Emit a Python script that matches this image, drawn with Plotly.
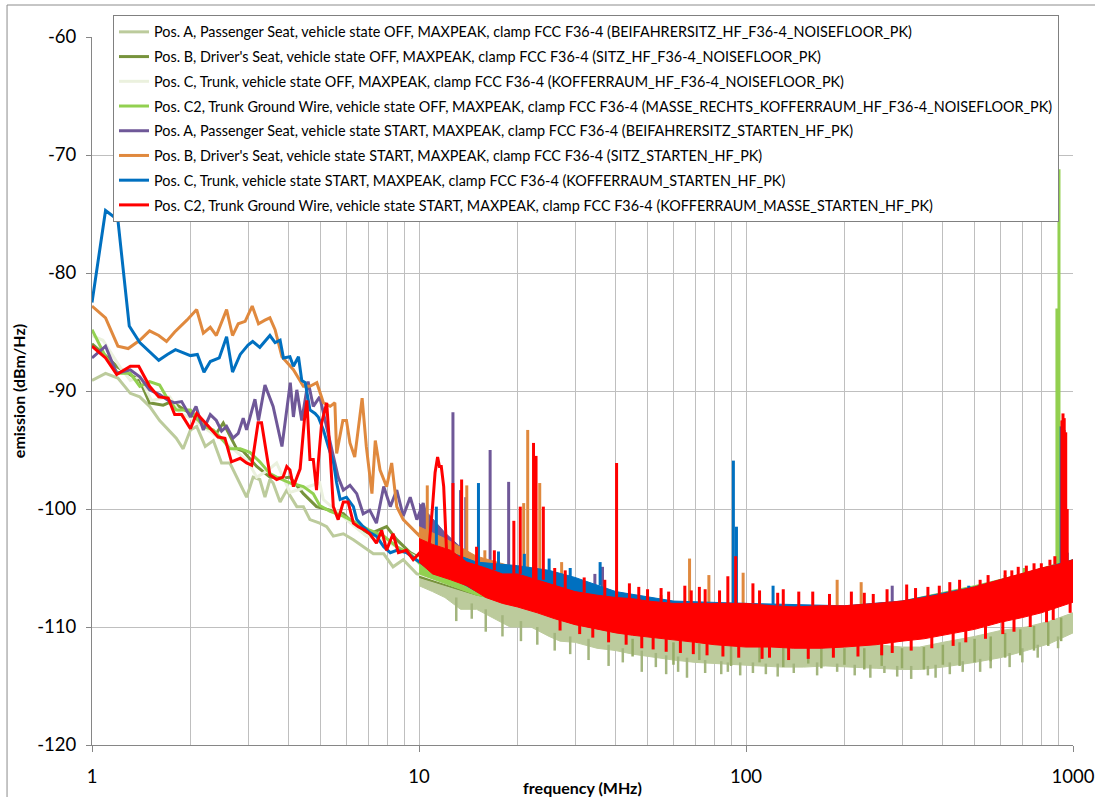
import plotly.graph_objects as go

# ---------------- names / colours ----------------
names = [
    "Pos. A, Passenger Seat, vehicle state OFF, MAXPEAK, clamp FCC F36-4 (BEIFAHRERSITZ_HF_F36-4_NOISEFLOOR_PK)",
    "Pos. B, Driver's Seat, vehicle state OFF, MAXPEAK, clamp FCC F36-4 (SITZ_HF_F36-4_NOISEFLOOR_PK)",
    "Pos. C, Trunk, vehicle state OFF, MAXPEAK, clamp FCC F36-4 (KOFFERRAUM_HF_F36-4_NOISEFLOOR_PK)",
    "Pos. C2, Trunk Ground Wire, vehicle state OFF, MAXPEAK, clamp FCC F36-4 (MASSE_RECHTS_KOFFERRAUM_HF_F36-4_NOISEFLOOR_PK)",
    "Pos. A, Passenger Seat, vehicle state START, MAXPEAK, clamp FCC F36-4 (BEIFAHRERSITZ_STARTEN_HF_PK)",
    "Pos. B, Driver's Seat, vehicle state START, MAXPEAK, clamp FCC F36-4 (SITZ_STARTEN_HF_PK)",
    "Pos. C, Trunk, vehicle state START, MAXPEAK, clamp FCC F36-4 (KOFFERRAUM_STARTEN_HF_PK)",
    "Pos. C2, Trunk Ground Wire, vehicle state START, MAXPEAK, clamp FCC F36-4 (KOFFERRAUM_MASSE_STARTEN_HF_PK)",
]
colors = ["#BCCB9C", "#77933C", "#EBF1DE", "#92D050", "#6F5898", "#E0893E", "#0070C0", "#FF0000"]
stripe_colors = ["#A3B57E", "#95AB66", "#EBF1DE", "#92D050", "#6F5898", "#E0893E", "#0070C0", "#FF0000"]

# ---------------- low-frequency traces (1 - 12 MHz) ----------------
aoff_f = [1.0,1.1,1.2,1.31,1.4,1.5,1.61,1.71,1.81,1.9,2.0,2.09,2.22,2.35,2.49,2.64,2.8,2.97,3.11,3.26,3.38,3.5,3.58,3.76,3.94,4.23,4.43,4.64,4.97,5.22,5.47,5.87,6.3,6.75,7.25,7.8,8.33,8.95,9.85,10.8]
aoff_v = [-89.1,-88.5,-88.9,-90.2,-90.5,-91.3,-92.5,-93.3,-94.0,-94.9,-93.3,-93.0,-94.7,-94.2,-96.1,-96.1,-97.5,-99.0,-97.3,-97.5,-99.0,-97.5,-97.8,-99.4,-98.4,-99.8,-99.8,-100.9,-101.2,-101.5,-102.3,-102.1,-102.6,-103.2,-103.8,-103.8,-104.9,-104.3,-105.5,-105.7]

boff_f = [1.0,1.1,1.2,1.29,1.4,1.5,1.65,1.75,2.0,2.14,2.4,2.52,2.77,2.9,3.19,3.5,3.84,4.03,4.43,4.86,5.35,5.87,6.45,7.07,7.96,8.55,9.4,10.3]
boff_v = [-86.0,-87.0,-88.0,-88.5,-89.1,-91.0,-91.2,-90.9,-91.9,-92.7,-93.6,-92.7,-94.9,-95.1,-96.4,-97.3,-97.4,-97.3,-98.7,-99.8,-100.1,-100.4,-101.5,-102.1,-101.5,-102.6,-103.7,-104.3]

coff_f = [1.0,1.08,1.22,1.31,1.4,1.52,1.73,1.86,2.0,2.3,2.6,3.0,3.19,3.42,3.67,4.03,4.5,4.97,5.1,5.5,6.0,6.9,7.8,8.8,10.0]
coff_v = [-85.3,-85.7,-88.0,-89.1,-88.8,-90.8,-90.5,-91.9,-92.3,-93.5,-94.5,-96.0,-97.3,-96.8,-96.1,-98.6,-98.2,-97.8,-99.2,-100.0,-100.9,-102.3,-102.6,-103.4,-104.2]

c2off_f = [1.0,1.1,1.2,1.31,1.4,1.5,1.61,1.69,1.81,2.0,2.19,2.35,2.52,2.64,2.84,3.04,3.26,3.5,3.67,4.04,4.43,4.75,4.97,5.35,5.87,6.45,7.07,7.8,8.55,9.4,10.3]
c2off_v = [-84.8,-87.1,-88.5,-88.5,-89.6,-89.2,-89.5,-90.5,-91.6,-91.6,-93.0,-93.3,-94.2,-94.9,-94.9,-95.2,-96.0,-97.0,-97.3,-97.8,-98.1,-98.7,-99.7,-100.2,-100.6,-101.2,-101.8,-102.3,-103.2,-103.8,-104.9]

astart_f = [1.0,1.1,1.19,1.31,1.4,1.5,1.61,1.71,1.79,1.88,2.0,2.08,2.19,2.3,2.4,2.49,2.58,2.7,2.8,2.9,2.97,3.15,3.23,3.38,3.58,3.81,4.04,4.13,4.23,4.38,4.58,4.75,4.97,5.35,5.66,5.87,6.15,6.45,6.75,7.07,7.41,7.8,8.17,8.55,8.95,9.4,9.85,10.3,10.8]
astart_v = [-87.2,-86.2,-88.5,-88.2,-88.8,-89.9,-90.3,-90.8,-91.0,-90.9,-92.2,-91.3,-93.3,-92.0,-92.5,-93.4,-93.0,-94.0,-93.6,-92.3,-93.3,-90.7,-92.5,-89.5,-91.3,-94.7,-89.3,-92.2,-89.9,-92.5,-89.2,-91.3,-90.5,-94.2,-97.3,-98.4,-98.0,-98.7,-100.4,-100.1,-101.2,-98.1,-99.8,-98.4,-100.6,-99.0,-100.9,-99.5,-102.1]

bstart_f = [1.0,1.1,1.2,1.29,1.4,1.5,1.6,1.69,1.79,1.95,2.09,2.19,2.3,2.4,2.58,2.69,2.8,2.94,3.09,3.23,3.38,3.5,3.63,3.81,4.13,4.43,4.64,4.87,5.1,5.35,5.53,5.6,5.85,6.0,6.15,6.36,6.7,6.9,7.18,7.35,7.6,7.96,8.25,8.55,8.95,9.4,9.85,10.3]
bstart_v = [-82.8,-83.8,-86.2,-86.4,-85.7,-84.9,-85.3,-85.8,-85.0,-84.0,-83.1,-85.1,-84.6,-85.3,-83.1,-85.3,-84.3,-84.1,-82.8,-84.3,-84.0,-83.8,-84.8,-87.1,-88.2,-89.6,-89.6,-89.3,-91.0,-91.3,-91.0,-95.3,-92.5,-92.5,-94.4,-95.6,-90.6,-94.7,-98.7,-94.2,-96.7,-98.1,-96.1,-99.8,-100.9,-101.5,-102.1,-102.6]

cstart_f = [1.0,1.1,1.2,1.3,1.4,1.6,1.7,1.8,2.0,2.1,2.2,2.3,2.45,2.58,2.69,2.84,3.0,3.1,3.26,3.5,3.63,3.76,3.85,4.03,4.13,4.28,4.38,4.49,4.64,4.81,4.92,5.1,5.28,5.48,5.6,5.74,6.0,6.3,6.45,6.75,7.07,7.41,7.8,8.17,8.55,9.15,9.8,10.6]
cstart_v = [-82.5,-74.7,-75.5,-84.5,-85.9,-87.4,-86.9,-86.5,-87.0,-86.9,-88.4,-87.5,-87.2,-85.4,-88.4,-86.9,-86.1,-85.8,-86.3,-85.3,-85.9,-85.7,-87.2,-87.1,-87.9,-87.1,-89.1,-89.3,-91.6,-91.9,-92.2,-93.3,-94.7,-96.1,-97.8,-99.2,-99.0,-99.8,-100.9,-101.5,-102.0,-102.3,-103.2,-103.7,-103.5,-103.7,-104.3,-104.9]

c2start_f = [1.0,1.1,1.19,1.31,1.39,1.5,1.6,1.71,1.79,1.88,2.0,2.09,2.22,2.32,2.43,2.55,2.67,2.84,2.97,3.08,3.22,3.3,3.5,3.67,3.84,3.94,4.03,4.13,4.28,4.33,4.46,4.54,4.64,4.75,4.86,4.92,5.04,5.22,5.35,5.47,5.66,5.87,6.07,6.3,6.52,6.84,7.07,7.41,7.69,7.96,8.33,8.65,9.15,9.6,10.06,10.6,11.0,11.2,11.4,11.55,11.7,11.9,12.2]
c2start_v = [-86.2,-87.2,-88.6,-87.9,-87.9,-89.6,-90.5,-90.6,-92.0,-92.0,-93.2,-91.9,-92.7,-93.3,-93.9,-94.0,-96.0,-95.7,-96.1,-96.3,-92.7,-92.7,-97.1,-97.5,-97.3,-96.4,-96.7,-98.1,-97.0,-96.6,-92.5,-90.8,-95.8,-95.8,-98.4,-96.1,-92.7,-91.0,-95.3,-99.8,-100.9,-99.4,-99.4,-101.2,-101.5,-101.8,-102.1,-102.9,-101.8,-103.5,-102.1,-103.7,-103.5,-104.3,-103.7,-104.9,-99.8,-96.9,-95.6,-96.4,-96.4,-98.1,-104.9]

# ---------------- dense region (10 - 1000 MHz): band envelopes ----------------
aoff_band_f = [10,11,12,13.4,15,17,19,22,25,27,30,35,40,45,50,60,70,80,91,110,130,150,175,200,250,300,340,400,500,600,720,850,1000]
aoff_band_top = [-104.0,-104.5,-105.0,-106.0,-106.5,-107.0,-107.4,-108.0,-108.5,-108.8,-109.0,-109.4,-110.0,-110.2,-110.5,-110.8,-110.8,-110.8,-110.8,-111.0,-111.0,-111.1,-111.2,-111.4,-111.5,-111.7,-111.7,-111.3,-110.8,-110.3,-110.0,-109.5,-108.8]
aoff_band_bot = [-106.5,-107.0,-107.5,-108.5,-108.5,-109.3,-110.0,-110.0,-110.8,-111.2,-111.3,-111.8,-112.0,-112.3,-112.5,-112.8,-113.0,-113.1,-113.2,-113.3,-113.4,-113.4,-113.3,-113.4,-113.5,-113.6,-113.6,-113.4,-113.0,-112.6,-112.0,-111.4,-110.5]

boff_band_f = [10,15,20,30,40,60,100,200,300,500,700,900,1000]
boff_band_top = [-104.5,-106.0,-107.0,-107.8,-108.3,-108.6,-108.8,-108.8,-108.3,-107.0,-106.0,-105.0,-104.7]
boff_band_bot = [-105.8,-107.3,-108.0,-109.5,-110.2,-110.8,-111.3,-111.4,-110.9,-109.9,-108.9,-108.0,-107.6]

coff_band_f = [10,15,20,30,40,60,100,200,300,500,700,900,1000]
coff_band_top = [-104.3,-105.8,-106.8,-107.6,-108.2,-108.5,-108.6,-108.6,-108.2,-106.9,-105.9,-105.0,-104.6]
coff_band_bot = [-105.6,-107.2,-108.0,-109.5,-110.2,-110.8,-111.3,-111.4,-110.9,-109.9,-108.9,-108.0,-107.6]

c2off_band_f = [10,15,20,30,40,60,100,200,300,500,700,900,1000]
c2off_band_top = [-104.5,-106.0,-106.8,-107.5,-108.0,-108.3,-108.5,-108.3,-107.8,-106.5,-105.5,-104.6,-104.3]
c2off_band_bot = [-105.5,-107.3,-108.0,-109.5,-110.2,-110.8,-111.3,-111.4,-110.9,-109.9,-108.9,-108.0,-107.6]

astart_band_f = [10,12,15,20,25,30,40,60,100,200,300,500,700,900,1000]
astart_band_top = [-99.5,-102.0,-104.5,-105.3,-106.0,-106.8,-107.6,-108.0,-108.2,-108.3,-108.0,-106.8,-105.7,-104.8,-104.5]
astart_band_bot = [-102.0,-104.5,-106.5,-107.5,-108.5,-109.3,-110.2,-110.9,-111.5,-111.6,-111.0,-110.0,-109.0,-108.1,-107.7]

bstart_band_f = [10,12,15,20,25,30,40,60,100,200,300,500,700,900,1000]
bstart_band_top = [-101.5,-102.5,-104.0,-105.0,-105.5,-106.5,-107.5,-108.0,-108.2,-108.3,-108.0,-106.8,-105.7,-104.8,-104.5]
bstart_band_bot = [-104.0,-105.0,-106.5,-107.5,-108.5,-109.3,-110.2,-110.9,-111.5,-111.6,-111.0,-110.0,-109.0,-108.1,-107.7]

cstart_band_f = [10,12,15,20,25,30,40,60,100,200,300,500,700,900,1000]
cstart_band_top = [-103.0,-103.5,-104.5,-104.8,-105.2,-105.8,-107.0,-107.8,-108.0,-108.2,-107.8,-106.6,-105.5,-104.7,-104.3]
cstart_band_bot = [-104.5,-105.5,-107.0,-108.0,-109.0,-109.5,-110.3,-110.9,-111.5,-111.6,-111.0,-110.0,-109.0,-108.1,-107.7]

c2start_band_f = [10,11,12.5,14,16,18,20,23,26,30,35,40,45,50,60,70,80,90,100,120,140,170,200,250,300,350,400,500,600,700,800,900,1000]
c2start_band_top = [-102.5,-103.0,-103.5,-104.5,-105.0,-105.5,-105.5,-106.0,-106.5,-107.0,-107.3,-107.5,-107.6,-107.8,-108.0,-108.0,-108.0,-108.0,-108.0,-108.2,-108.3,-108.2,-108.2,-108.0,-107.8,-107.5,-107.2,-106.6,-106.0,-105.5,-105.0,-104.7,-104.3]
c2start_band_bot = [-104.5,-105.5,-106.0,-106.5,-107.5,-108.0,-108.3,-108.8,-109.3,-109.8,-110.2,-110.5,-110.7,-110.9,-111.1,-111.3,-111.5,-111.6,-111.7,-111.7,-111.8,-111.8,-111.7,-111.5,-111.2,-111.0,-110.7,-110.2,-109.6,-109.2,-108.8,-108.3,-107.9]

# ---------------- narrow peaks / dips: frequency, start level, end level ----------------
aoff_pk_f = [13, 14.5, 16, 18, 20.5, 23, 26, 29, 33, 38, 42, 48, 53, 57, 62, 66, 75, 84, 88, 96, 105, 115, 125, 140, 165, 190, 215, 240, 265, 290, 320, 360, 380, 420, 460, 520, 560, 640, 700, 780, 900]
aoff_pk_base = [-107.5, -108.0, -108.5, -109.0, -109.5, -110.0, -110.5, -110.8, -111.0, -111.5, -111.8, -112.0, -112.2, -112.4, -112.5, -112.6, -112.8, -112.9, -113.0, -113.0, -113.0, -113.1, -113.1, -113.1, -113.0, -113.1, -113.2, -113.2, -113.3, -113.3, -113.3, -113.3, -113.2, -113.0, -112.9, -112.7, -112.5, -112.2, -111.8, -111.5, -110.8]
aoff_pk_v = [-109.5, -109.3, -110.4, -110.8, -111.2, -111.5, -112.0, -112.3, -112.8, -113.3, -113.0, -113.8, -113.4, -114.0, -113.8, -114.3, -113.9, -114.0, -113.8, -114.1, -113.9, -114.0, -114.2, -113.9, -114.1, -113.8, -114.1, -114.3, -113.9, -114.2, -114.4, -114.1, -114.3, -114.0, -113.8, -113.8, -113.5, -113.4, -113.0, -112.6, -111.8]
boff_pk_f = [45, 60, 72, 90, 110, 130, 155, 170, 200, 230, 260, 300, 350, 400, 450, 500, 560, 620, 690, 760, 840, 920]
boff_pk_base = [-111.0, -111.3, -111.4, -111.5, -111.6, -111.7, -111.7, -111.7, -111.8, -111.8, -111.8, -111.8, -111.7, -111.5, -111.3, -111.0, -110.8, -110.5, -110.2, -109.9, -109.6, -109.2]
boff_pk_v = [-112.5, -113.2, -112.8, -113.3, -113.0, -113.4, -113.1, -113.5, -113.2, -113.6, -113.3, -113.5, -113.6, -113.2, -113.3, -113.0, -112.9, -112.6, -112.4, -112.0, -111.6, -111.2]
coff_pk_f, coff_pk_base, coff_pk_v = [], [], []
c2off_pk_f = [55, 620, 710, 893, 906]
c2off_pk_base = [-108.3, -106.5, -105.8, -105.0, -105.0]
c2off_pk_v = [-107.3, -105.6, -105.0, -83.0, -71.2]
astart_pk_f = [12.7, 13.4, 13.9, 16.5, 18.8, 34.5, 36.4, 280, 930, 940]
astart_pk_base = [-103.5, -104.0, -104.2, -105.0, -105.5, -107.3, -107.5, -108.0, -105.0, -105.0]
astart_pk_v = [-91.8, -98.4, -99.0, -95.0, -97.7, -105.5, -104.9, -106.5, -92.5, -93.3]
bstart_pk_f = [10.6, 14.0, 15.9, 20.9, 21.5, 23.4, 27.3, 67.2, 77, 98, 190, 225]
bstart_pk_base = [-102.5, -104.0, -104.5, -105.0, -105.0, -105.5, -106.0, -108.0, -108.0, -108.2, -108.3, -108.2]
bstart_pk_v = [-98.0, -98.0, -103.5, -99.5, -93.3, -97.8, -104.5, -104.2, -105.6, -105.4, -106.0, -106.2]
cstart_pk_f = [11.3, 15.2, 17.5, 21, 25, 29, 35.8, 91.5, 93.5, 121, 480, 920, 960]
cstart_pk_base = [-103.5, -104.5, -105.0, -105.5, -105.8, -106.3, -106.5, -108.0, -108.0, -108.2, -106.8, -104.7, -104.5]
cstart_pk_v = [-99.8, -97.8, -103.6, -103.8, -104.2, -105.0, -104.5, -95.9, -101.5, -106.5, -106.5, -93.0, -103.7]
c2start_pk_f = [12.7, 13.5, 15, 17, 19.5, 20.4, 22.4, 22.8, 24.0, 26, 28, 32, 37, 40.2, 44, 47, 50, 55, 58, 65, 68, 72, 75, 83, 88, 93, 105, 110, 125, 130, 145, 160, 180, 210, 230, 245, 270, 310, 330, 360, 390, 420, 450, 520, 550, 620, 650, 680, 720, 760, 800, 850, 880, 925, 932, 940, 950, 960,
               27, 31, 34, 38, 43, 48, 52, 57, 63, 69, 76, 85, 95, 112, 118, 135, 155, 185, 220, 260, 280, 320, 370, 430, 470, 540, 610, 660, 740, 830, 870, 980]
c2start_pk_base = [-104.0, -104.5, -104.8, -105.2, -105.5, -105.5, -106.0, -106.0, -106.0, -106.5, -106.8, -107.1, -107.4, -107.5, -107.6, -107.7, -107.8, -107.9, -108.0, -108.0, -108.0, -108.0, -108.0, -108.0, -108.0, -108.0, -108.0, -108.1, -108.2, -108.2, -108.3, -108.2, -108.2, -108.2, -108.1, -108.0, -107.9, -107.8, -107.7, -107.5, -107.3, -107.1, -106.9, -106.6, -106.4, -105.9, -105.8, -105.6, -105.5, -105.2, -105.0, -104.8, -104.7, -104.7, -104.7, -104.7, -104.7, -104.6,
                   -108.3, -108.8, -109.0, -109.4, -109.6, -109.8, -110.0, -110.1, -110.2, -110.4, -110.5, -110.6, -110.7, -110.7, -110.8, -110.8, -110.8, -110.8, -110.7, -110.6, -110.4, -110.2, -110.0, -109.7, -109.5, -109.2, -108.8, -108.6, -108.2, -107.9, -107.7, -107.2]
c2start_pk_v = [-97.8, -97.5, -103.2, -103.5, -101.0, -99.8, -94.4, -95.5, -99.8, -105.0, -105.2, -105.8, -106.0, -96.1, -106.3, -106.6, -106.8, -106.7, -107.0, -106.5, -106.9, -106.6, -106.8, -106.9, -105.7, -104.0, -106.3, -106.9, -107.1, -106.8, -107.0, -107.0, -107.2, -107.0, -107.1, -107.2, -106.8, -106.4, -106.7, -106.6, -106.5, -106.2, -106.0, -106.0, -105.6, -105.2, -105.2, -104.9, -104.8, -104.6, -104.6, -104.3, -104.0, -92.5, -91.9, -92.3, -93.5, -100.0,
                -110.3, -110.6, -110.9, -111.3, -111.5, -111.8, -111.9, -112.1, -112.2, -112.3, -112.4, -112.5, -112.6, -112.7, -112.6, -112.8, -112.7, -112.6, -112.5, -112.4, -112.2, -112.0, -111.8, -111.6, -111.3, -111.0, -110.6, -110.4, -110.0, -109.6, -109.4, -108.8]

low_f = [aoff_f, boff_f, coff_f, c2off_f, astart_f, bstart_f, cstart_f, c2start_f]
low_v = [aoff_v, boff_v, coff_v, c2off_v, astart_v, bstart_v, cstart_v, c2start_v]
band_f = [aoff_band_f, boff_band_f, coff_band_f, c2off_band_f, astart_band_f, bstart_band_f, cstart_band_f, c2start_band_f]
band_top = [aoff_band_top, boff_band_top, coff_band_top, c2off_band_top, astart_band_top, bstart_band_top, cstart_band_top, c2start_band_top]
band_bot = [aoff_band_bot, boff_band_bot, coff_band_bot, c2off_band_bot, astart_band_bot, bstart_band_bot, cstart_band_bot, c2start_band_bot]
pk_f = [aoff_pk_f, boff_pk_f, coff_pk_f, c2off_pk_f, astart_pk_f, bstart_pk_f, cstart_pk_f, c2start_pk_f]
pk_base = [aoff_pk_base, boff_pk_base, coff_pk_base, c2off_pk_base, astart_pk_base, bstart_pk_base, cstart_pk_base, c2start_pk_base]
pk_v = [aoff_pk_v, boff_pk_v, coff_pk_v, c2off_pk_v, astart_pk_v, bstart_pk_v, cstart_pk_v, c2start_pk_v]

y_ticks = [-60, -70, -80, -90, -100, -110, -120]
y_labels = ["-60", "-70", "-80", "-90", "-100", "-110", "-120"]
x_ticks = [1, 10, 100, 1000]
x_labels = ["1", "10", "100", "1000"]
x_minor = [2, 3, 4, 5, 6, 7, 8, 9, 20, 30, 40, 50, 60, 70, 80, 90, 200, 300, 400, 500, 600, 700, 800, 900]

FONT = "Lato"
fig = go.Figure()

for i in range(8):
    col = colors[i]
    grp = "g%d" % i
    bx = list(band_f[i]) + list(band_f[i])[::-1]
    by = list(band_top[i]) + list(band_bot[i])[::-1]
    fig.add_trace(go.Scatter(x=bx, y=by, mode="lines", fill="toself", fillcolor=col,
                             line=dict(color=col, width=1), legendgroup=grp,
                             showlegend=False, hoverinfo="skip"))
    if pk_f[i]:
        px, py = [], []
        for f, b, v in zip(pk_f[i], pk_base[i], pk_v[i]):
            px += [f, f, None]
            py += [b, v, None]
        fig.add_trace(go.Scatter(x=px, y=py, mode="lines",
                                 line=dict(color=stripe_colors[i], width=3 if i >= 3 else 2.5),
                                 legendgroup=grp, showlegend=False, hoverinfo="skip"))
    fig.add_trace(go.Scatter(x=low_f[i], y=low_v[i], mode="lines", name=names[i],
                             line=dict(color=col, width=3), legendgroup=grp))

grid_col = "#BFBFBF"
fig.update_xaxes(type="log", range=[0, 3], tickvals=x_ticks, ticktext=x_labels,
                 showgrid=True, gridcolor=grid_col, gridwidth=1,
                 minor=dict(tickvals=x_minor, showgrid=True, gridcolor=grid_col, gridwidth=1, ticks=""),
                 showline=True, linecolor="#868686", linewidth=1, ticks="outside", ticklen=6,
                 tickcolor="#868686", tickfont=dict(family=FONT, size=18.5, color="#000000"),
                 ticklabelstandoff=9,
                 title=dict(text="<b>frequency (MHz)</b>", font=dict(family=FONT, size=16, color="#000000"), standoff=0),
                 zeroline=False)
fig.update_yaxes(range=[-120, -60], tickvals=y_ticks, ticktext=y_labels, domain=[0, 708 / 728],
                 showgrid=True, gridcolor=grid_col, gridwidth=1,
                 showline=True, linecolor="#868686", linewidth=1, ticks="outside", ticklen=5,
                 tickcolor="#868686", tickfont=dict(family=FONT, size=18.5, color="#000000"),
                 ticklabelstandoff=6,
                 title=dict(text="<b>emission (dBm/Hz)</b>", font=dict(family=FONT, size=16, color="#000000"), standoff=7),
                 zeroline=False)

fig.update_layout(
    width=1095, height=797,
    margin=dict(l=92, r=22, t=17, b=52, autoexpand=False),
    paper_bgcolor="white", plot_bgcolor="white",
    showlegend=True,
    legend=dict(x=0.0214, y=1.0 + 2 / 728, xanchor="left", yanchor="top", bgcolor="white",
                bordercolor="#808080", borderwidth=1, tracegroupgap=3,
                font=dict(family=FONT, size=14.4, color="#000000")),
    shapes=[dict(type="rect", xref="paper", yref="paper", x0=-0.0866, x1=1.0275,
                 y0=-(800 - 745) / 728, y1=(797 - 52 - 5) / 728,
                 line=dict(color="#8C8C8C", width=1), layer="below")],
)

fig.write_html("out.html", config={"displayModeBar": False},
               post_script="document.body.style.margin='0';document.body.style.padding='0';")
